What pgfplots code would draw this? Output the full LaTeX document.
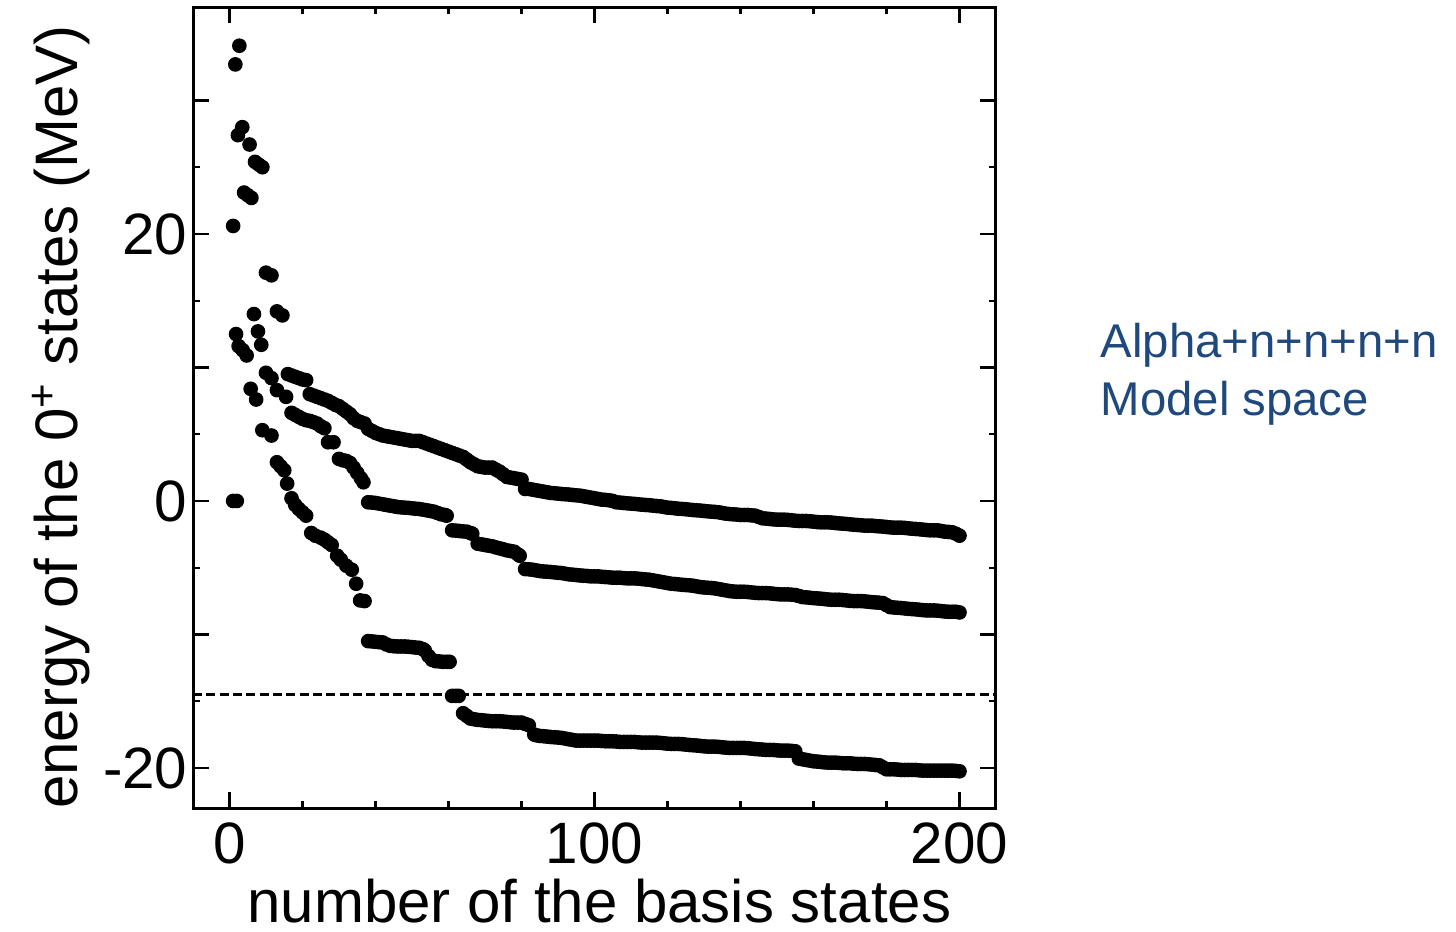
\documentclass[border=0pt]{standalone}
\usepackage{pgfplots}
\pgfplotsset{compat=1.18}
\usepackage{pgfplotstable}
\usepackage{fontspec}
\setmainfont{Liberation Sans}
\definecolor{annot}{RGB}{31,73,125}

\pgfplotstableread{
x y
1 20.6
1 0.0
2 0.0
1.6 32.7
2.7 34.1
2.3 27.4
3.5 28.0
5.5 26.7
7 25.4
8 25.2
9 25.0
4 23.1
5 22.9
6 22.7
10 17.1
11.5 16.9
6.7 14.0
13 14.2
14.5 13.9
1.8 12.5
7.8 12.7
8.7 11.7
2.5 11.6
3.6 11.3
4.7 10.9
10 9.6
11.5 9.2
5.8 8.4
7.3 7.6
13 8.3
15.5 7.8
9 5.3
11.5 4.9
13 2.9
14 2.6
15 2.3
15.8 1.3
}\early

\pgfplotstableread{
x y
16 9.5
17 9.4
18 9.3
19 9.2
20 9.1
21 9.05
22 8.0
23 7.9
24 7.8
25 7.7
26 7.6
27 7.5
28 7.35
29 7.2
30 7.1
31 6.9
32 6.7
33 6.5
34 6.2
35 6.0
36 5.9
37 5.8
38 5.4
39 5.25
40 5.1
41 5.0
42 4.9
43 4.85
44 4.8
45 4.75
46 4.7
47 4.65
48 4.6
49 4.55
50 4.5
51 4.5
52 4.5
53 4.4
54 4.3
55 4.2
56 4.1
57 4.0
58 3.9
59 3.8
60 3.7
61 3.6
62 3.5
63 3.4
64 3.3
65 3.1
66 2.9
67 2.75
68 2.6
69 2.55
70 2.5
71 2.5
72 2.5
73 2.35
74 2.2
75 2.0
76 1.8
77 1.75
78 1.7
79 1.65
80 1.6
81 0.9
82 0.9
83 0.85
84 0.8
85 0.75
86 0.7
87 0.65
88 0.6
89 0.58
90 0.55
91 0.52
92 0.5
93 0.48
94 0.45
95 0.42
96 0.4
97 0.35
98 0.3
99 0.25
100 0.2
101 0.15
102 0.1
103 0.08
104 0.05
105 0.0
106 -0.1
107 -0.12
108 -0.15
109 -0.18
110 -0.2
111 -0.22
112 -0.25
113 -0.28
114 -0.3
115 -0.32
116 -0.35
117 -0.38
118 -0.4
119 -0.45
120 -0.5
121 -0.52
122 -0.55
123 -0.58
124 -0.6
125 -0.62
126 -0.65
127 -0.68
128 -0.7
129 -0.72
130 -0.75
131 -0.78
132 -0.8
133 -0.82
134 -0.85
135 -0.9
136 -0.95
137 -0.98
138 -1.0
139 -1.02
140 -1.05
141 -1.05
142 -1.05
143 -1.08
144 -1.1
145 -1.2
146 -1.3
147 -1.32
148 -1.35
149 -1.38
150 -1.4
151 -1.4
152 -1.4
153 -1.42
154 -1.45
155 -1.48
156 -1.5
157 -1.5
158 -1.5
159 -1.52
160 -1.55
161 -1.58
162 -1.6
163 -1.6
164 -1.6
165 -1.62
166 -1.65
167 -1.68
168 -1.7
169 -1.72
170 -1.75
171 -1.78
172 -1.8
173 -1.82
174 -1.85
175 -1.85
176 -1.85
177 -1.88
178 -1.9
179 -1.92
180 -1.95
181 -1.98
182 -2.0
183 -2.0
184 -2.0
185 -2.02
186 -2.05
187 -2.08
188 -2.1
189 -2.12
190 -2.15
191 -2.18
192 -2.2
193 -2.2
194 -2.2
195 -2.25
196 -2.3
197 -2.32
198 -2.35
199 -2.45
200 -2.6
}\bandA

\pgfplotstableread{
x y
17 6.6
18 6.45
19 6.3
20 6.15
21 6.05
22 6.0
23 5.9
24 5.8
25 5.6
26 5.45
27 4.4
28.5 4.4
30 3.15
31 3.05
32 3.0
33 2.85
34 2.5
35 2.1
36 1.7
36.7 1.4
38 -0.1
39 -0.12
40 -0.15
41 -0.2
42 -0.25
43 -0.3
44 -0.35
45 -0.4
46 -0.45
47 -0.48
48 -0.5
49 -0.52
50 -0.55
51 -0.58
52 -0.6
53 -0.65
54 -0.7
55 -0.75
56 -0.8
57 -0.9
58 -1.0
59 -1.05
59.5 -1.1
61 -2.2
62 -2.22
63 -2.25
64 -2.28
65 -2.3
66 -2.4
66.5 -2.45
68 -3.2
69 -3.25
70 -3.3
71 -3.35
72 -3.4
73 -3.48
74 -3.55
75 -3.62
76 -3.7
77 -3.75
78 -3.8
79 -4.0
79.5 -4.1
81 -5.1
82 -5.12
83 -5.15
84 -5.2
85 -5.25
86 -5.28
87 -5.3
88 -5.32
89 -5.35
90 -5.38
91 -5.4
92 -5.45
93 -5.5
94 -5.52
95 -5.55
96 -5.58
97 -5.6
98 -5.62
99 -5.65
100 -5.65
101 -5.65
102 -5.68
103 -5.7
104 -5.72
105 -5.75
106 -5.75
107 -5.75
108 -5.78
109 -5.8
110 -5.8
111 -5.8
112 -5.82
113 -5.85
114 -5.88
115 -5.9
116 -5.95
117 -6.0
118 -6.05
119 -6.1
120 -6.15
121 -6.2
122 -6.22
123 -6.25
124 -6.28
125 -6.3
126 -6.32
127 -6.35
128 -6.4
129 -6.45
130 -6.48
131 -6.5
132 -6.52
133 -6.55
134 -6.6
135 -6.65
136 -6.7
137 -6.75
138 -6.78
139 -6.8
140 -6.8
141 -6.8
142 -6.82
143 -6.85
144 -6.88
145 -6.9
146 -6.9
147 -6.9
148 -6.92
149 -6.95
150 -6.98
151 -7.0
152 -7.0
153 -7.0
154 -7.02
155 -7.05
156 -7.12
157 -7.2
158 -7.22
159 -7.25
160 -7.28
161 -7.3
162 -7.32
163 -7.35
164 -7.38
165 -7.4
166 -7.4
167 -7.4
168 -7.42
169 -7.45
170 -7.48
171 -7.5
172 -7.5
173 -7.5
174 -7.52
175 -7.55
176 -7.58
177 -7.6
178 -7.62
179 -7.65
180 -7.8
181 -7.95
182 -7.98
183 -8.0
184 -8.02
185 -8.05
186 -8.08
187 -8.1
188 -8.12
189 -8.15
190 -8.18
191 -8.2
192 -8.2
193 -8.2
194 -8.22
195 -8.25
196 -8.28
197 -8.3
198 -8.3
199 -8.3
200 -8.35
}\bandB

\pgfplotstableread{
x y
17 0.2
18 -0.3
19 -0.6
20 -0.85
21 -1.1
22.4 -2.4
23.5 -2.6
25 -2.75
26 -2.9
27 -3.1
28 -3.3
29.5 -4.1
30.5 -4.4
32 -4.85
33.5 -5.15
34.7 -6.2
35.8 -7.45
37 -7.5
38 -10.5
39 -10.52
40 -10.55
41 -10.58
42 -10.6
43 -10.75
44 -10.85
45 -10.88
46 -10.9
47 -10.9
48 -10.9
49 -10.92
50 -10.95
51 -10.98
52 -11.0
53 -11.1
53.5 -11.2
54.5 -11.6
55.5 -11.9
56.5 -12.0
57.5 -12.02
58.5 -12.05
59.5 -12.05
60.3 -12.05
61 -14.6
62 -14.6
62.8 -14.6
64 -15.9
65 -16.1
66 -16.3
67 -16.35
68 -16.4
69 -16.42
70 -16.45
71 -16.48
72 -16.5
73 -16.5
74 -16.5
75 -16.52
76 -16.55
77 -16.58
78 -16.6
79 -16.6
80 -16.6
81 -16.7
82 -16.8
83.5 -17.5
84 -17.55
85 -17.6
86 -17.62
87 -17.65
88 -17.68
89 -17.7
90 -17.72
91 -17.75
92 -17.8
93 -17.85
94 -17.9
95 -17.95
96 -17.95
97 -17.95
98 -17.95
99 -17.95
100 -17.95
101 -17.95
102 -17.98
103 -18.0
104 -18.0
105 -18.0
106 -18.02
107 -18.05
108 -18.05
109 -18.05
110 -18.05
111 -18.05
112 -18.08
113 -18.1
114 -18.1
115 -18.1
116 -18.1
117 -18.1
118 -18.12
119 -18.15
120 -18.18
121 -18.2
122 -18.2
123 -18.2
124 -18.22
125 -18.25
126 -18.28
127 -18.3
128 -18.32
129 -18.35
130 -18.38
131 -18.4
132 -18.4
133 -18.4
134 -18.42
135 -18.45
136 -18.48
137 -18.5
138 -18.5
139 -18.5
140 -18.5
141 -18.5
142 -18.52
143 -18.55
144 -18.58
145 -18.6
146 -18.62
147 -18.65
148 -18.65
149 -18.65
150 -18.68
151 -18.7
152 -18.7
153 -18.7
154 -18.72
155 -18.75
156 -19.3
157 -19.35
158 -19.4
159 -19.45
160 -19.5
161 -19.52
162 -19.55
163 -19.58
164 -19.6
165 -19.6
166 -19.6
167 -19.62
168 -19.65
169 -19.65
170 -19.65
171 -19.68
172 -19.7
173 -19.7
174 -19.7
175 -19.72
176 -19.75
177 -19.78
178 -19.8
179 -19.95
180 -20.1
181 -20.1
182 -20.1
183 -20.12
184 -20.15
185 -20.15
186 -20.15
187 -20.15
188 -20.15
189 -20.18
190 -20.2
191 -20.2
192 -20.2
193 -20.2
194 -20.2
195 -20.2
196 -20.2
197 -20.2
198 -20.2
199 -20.22
200 -20.25
}\bandC

\begin{document}
\begin{tikzpicture}
\useasboundingbox (0,0) rectangle (436.8pt,279.3pt);
\begin{axis}[
  at={(57.9pt,36.9pt)}, anchor=south west,
  scale only axis, width=240.9pt, height=240.3pt,
  xmin=-10, xmax=210, ymin=-23, ymax=37,
  xtick={0,100,200}, xticklabels={0,100,200},
  minor x tick num=4,
  ytick={-20,-10,0,10,20,30}, yticklabels={-20,,0,,20,},
  minor y tick num=1,
  tick align=inside,
  major tick length=4.8pt, minor tick length=2.2pt,
  axis line style={line width=0.9pt},
  every tick/.style={black, line width=0.7pt},
  tick label style={font=\fontsize{17.5}{20}\selectfont},
  yticklabel style={inner xsep=1.5pt},
  xticklabel style={yshift=-0.8pt},
  xlabel={number of the basis states},
  ylabel={energy of the 0\textsuperscript{+} states (MeV)},
  label style={font=\fontsize{18}{21}\selectfont},
  xlabel style={at={(axis description cs:0.506,-0.143)}, anchor=base, inner sep=0pt},
  ylabel style={at={(axis description cs:-0.164,0.488)}, anchor=center},
]
\addplot[black, line width=0.7pt, dash pattern=on 2.7pt off 1.3pt] coordinates {(-10,-14.5) (210,-14.5)};
\addplot[only marks, mark=*, mark size=2pt, black] table {\early};
\addplot[only marks, mark=*, mark size=2pt, black] table {\bandA};
\addplot[only marks, mark=*, mark size=2pt, black] table {\bandB};
\addplot[only marks, mark=*, mark size=2pt, black] table {\bandC};
\end{axis}
\node[anchor=base west, text=annot, font=\fontsize{14.2}{17}\selectfont, inner sep=0pt] at (330pt,172.2pt) {Alpha+n+n+n+n};
\node[anchor=base west, text=annot, font=\fontsize{14.2}{17}\selectfont, inner sep=0pt] at (330pt,154.8pt) {Model space};
\end{tikzpicture}
\end{document}
